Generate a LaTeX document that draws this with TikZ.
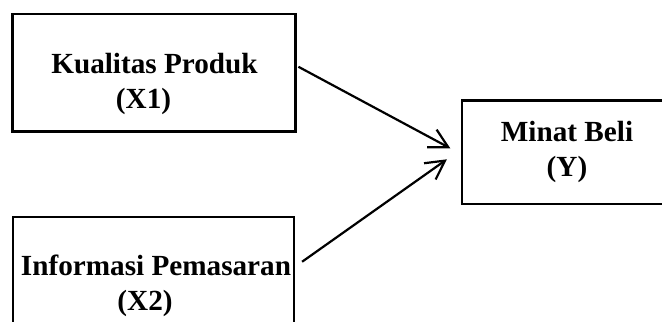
\documentclass[tikz,border=0pt]{standalone}
\usepackage{fontspec}
\setmainfont{Liberation Serif}
\usetikzlibrary{arrows.meta}

\begin{document}
\begin{tikzpicture}[x=0.5pt, y=-0.5pt]

    % Define styles
    \tikzset{
        var box/.style={draw=black, line width=1.4pt, rectangle, inner sep=0pt},
        var text/.style={font=\fontsize{14.6}{17.5}\selectfont\bfseries, align=center, inner sep=0pt},
        path arrow/.style={line width=1.1pt, -{Straight Barb[length=9.3pt, width=10pt]}}
    }

    % Fix the page and cut off what runs past it
    \useasboundingbox (0,0) rectangle (662,321);
    \clip (0,0) rectangle (662,321);

    % Draw the variable boxes
    \node[var box, minimum width=141.5pt, minimum height=58.75pt] (x1) at (154,72.75) {};
    \node[var box, minimum width=140.5pt, minimum height=58.75pt] (x2) at (153.5,275.75) {};
    \node[var box, minimum width=105pt, minimum height=51.65pt] (y) at (567,152.3) {};

    % Label the boxes
    \node[var text] (x1-text) at ([shift={(0.5,10.75)}]x1.center) {Kualitas Produk\\(X1)\hspace{0.75em}\mbox{}};
    \node[var text] (x2-text) at ([shift={(2.5,10)}]x2.center) {Informasi Pemasaran\\(X2)\hspace{0.75em}\mbox{}};
    \node[var text] (y-text) at (y.center) {Minat Beli\\(Y)};

    % Draw the arrows into Y
    \draw[path arrow] ([shift={(1.5,-6)}]x1.east) -- ([shift={(-10.3,-4)}]y.west);
    \draw[path arrow] ([shift={(6.7,-14)}]x2.east) -- ([shift={(-13.7,7)}]y.west);

\end{tikzpicture}
\end{document}
